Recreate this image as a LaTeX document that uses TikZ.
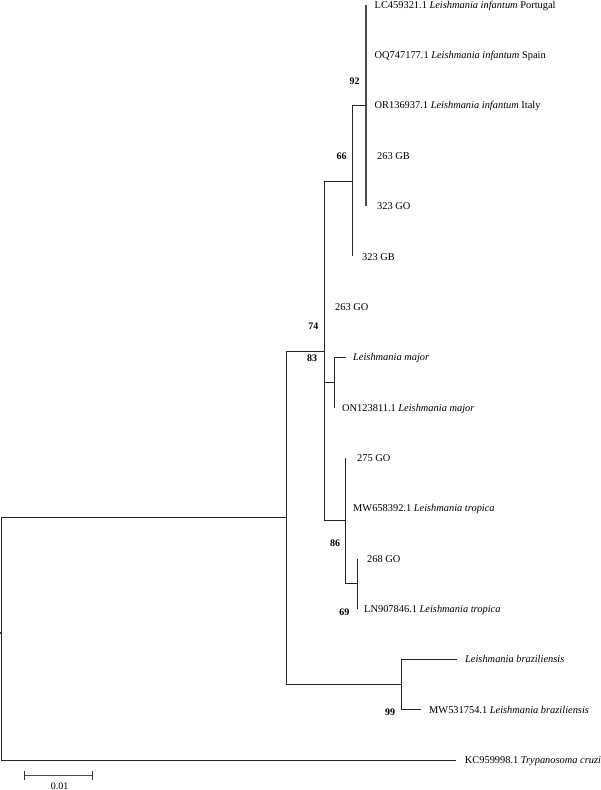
\documentclass[tikz,border=0pt]{standalone}
\usepackage{fontspec}
\setmainfont{Liberation Serif}
\newfontfamily\treefont{Liberation Serif}
\begin{document}
\begin{tikzpicture}[x=1pt,y=-1pt,
  br/.style={draw=black!85, line width=0.75pt},
  brthick/.style={draw=black!70, line width=1.7pt},
  lab/.style={anchor=base west, inner sep=0pt, font=\treefont\fontsize{10.4}{12}\selectfont, yshift=-3.6pt, xshift=#1},
  lab/.default=8.5pt,
  boot/.style={inner sep=0pt, font=\treefont\fontsize{10}{12}\selectfont\bfseries, anchor=center}]
\useasboundingbox (0,0) rectangle (600,790);
% leaf tips
\coordinate (l0) at (366,4.6);
\coordinate (l1) at (366,55.0);
\coordinate (l2) at (366,105.3);
\coordinate (l3) at (366,155.7);
\coordinate (l4) at (366,206.0);
\coordinate (l5) at (352,256.4);
\coordinate (l6) at (324,306.8);
\coordinate (l7) at (346,357.1);
\coordinate (l8) at (334,407.5);
\coordinate (l9) at (345,457.8);
\coordinate (l10) at (345,508.2);
\coordinate (l11) at (357,558.6);
\coordinate (l12) at (357,608.9);
\coordinate (l13) at (457,659.3);
\coordinate (l14) at (421,709.6);
\coordinate (l15) at (455.7,760.0);
% internal nodes
\coordinate (inf) at (366,105.3);
\coordinate (n66) at (352,180.9);
\coordinate (nmid) at (324,350.9);
\coordinate (nmaj) at (334,382.3);
\coordinate (ntro) at (345,520.8);
\coordinate (ntro2) at (357,583.7);
\coordinate (nleish) at (286,517.7);
\coordinate (nbra) at (401,684.5);
\coordinate (root) at (1,638.9);
% infantum clade (zero-length tips)
\draw[brthick] (inf |- l0) -- (inf |- l4);
% node 66
\draw[br] (n66 |- inf) -- (n66 |- l5);
\draw[br] (n66 |- inf) -- (inf);
% middle node
\draw[br] (nmid |- n66) -- (nmid |- ntro);
\draw[br] (nmid |- n66) -- (n66);
% major clade
\draw[br] (nmid |- nmaj) -- (nmaj);
\draw[br] (nmaj |- l7) -- (nmaj |- l8);
\draw[br] (nmaj |- l7) -- (l7);
% tropica clade
\draw[br] (nmid |- ntro) -- (ntro);
\draw[br] (ntro |- l9) -- (ntro |- ntro2);
\draw[br] (ntro |- ntro2) -- (ntro2);
\draw[br] (ntro2 |- l11) -- (ntro2 |- l12);
% leishmania node
\draw[br] (nleish |- nmid) -- (nleish |- nbra);
\draw[br] (nleish |- nmid) -- (nmid);
\draw[br] (nleish |- nbra) -- (nbra);
% braziliensis
\draw[br] (nbra |- l13) -- (nbra |- l14);
\draw[br] (nbra |- l13) -- (l13);
\draw[br] (nbra |- l14) -- (l14);
% root
\draw[br] (root |- nleish) -- (root |- l15);
\draw[br] (root |- nleish) -- (nleish);
\draw[br] (root |- l15) -- (l15);
\coordinate (rootstub) at (0,633);
\draw[line width=1.2pt, black!80] (rootstub) -- ++(2.2,0);
% leaf labels
\node[lab] (t0) at (l0) {LC459321.1 \textit{Leishmania infantum} Portugal};
\node[lab] (t1) at (l1) {OQ747177.1 \textit{Leishmania infantum} Spain};
\node[lab] (t2) at (l2) {OR136937.1 \textit{Leishmania infantum} Italy};
\node[lab=11pt] (t3) at (l3) {263 GB};
\node[lab=11pt] (t4) at (l4) {323 GO};
\node[lab=10pt] (t5) at (l5) {323 GB};
\node[lab=11pt] (t6) at (l6) {263 GO};
\node[lab=7pt] (t7) at (l7) {\textit{Leishmania major}};
\node[lab=8pt] (t8) at (l8) {ON123811.1 \textit{Leishmania major}};
\node[lab=12pt] (t9) at (l9) {275 GO};
\node[lab=8pt] (t10) at (l10) {MW658392.1 \textit{Leishmania tropica}};
\node[lab=10pt] (t11) at (l11) {268 GO};
\node[lab=7pt] (t12) at (l12) {LN907846.1 \textit{Leishmania tropica}};
\node[lab=8pt] (t13) at (l13) {\textit{Leishmania braziliensis}};
\node[lab=8pt] (t14) at (l14) {MW531754.1 \textit{Leishmania braziliensis}};
\node[lab=9pt] (t15) at (l15) {KC959998.1 \textit{Trypanosoma cruzi}};
% bootstrap values
\node[boot] (b92) at (354.7,81.7) {92};
\node[boot] (b66) at (341.7,156.7) {66};
\node[boot] (b74) at (313.3,326.7) {74};
\node[boot] (b83) at (312,358) {83};
\node[boot] (b86) at (335,543) {86};
\node[boot] (b69) at (344.3,612.3) {69};
\node[boot] (b99) at (390,712) {99};
% scale bar
\coordinate (sb1) at (24,775.5);
\coordinate (sb2) at (92,775.5);
\draw[draw=black!70, line width=1.1pt] (sb1) -- (sb2);
\draw[draw=black!80, line width=0.9pt] ([yshift=4.5pt]sb1) -- ([yshift=-4.5pt]sb1);
\draw[draw=black!80, line width=0.9pt] ([yshift=4.5pt]sb2) -- ([yshift=-4.5pt]sb2);
\node[inner sep=0pt, font=\treefont\fontsize{10}{12}\selectfont, anchor=center] (sbl) at (59.5,786) {0.01};
\end{tikzpicture}
\end{document}
